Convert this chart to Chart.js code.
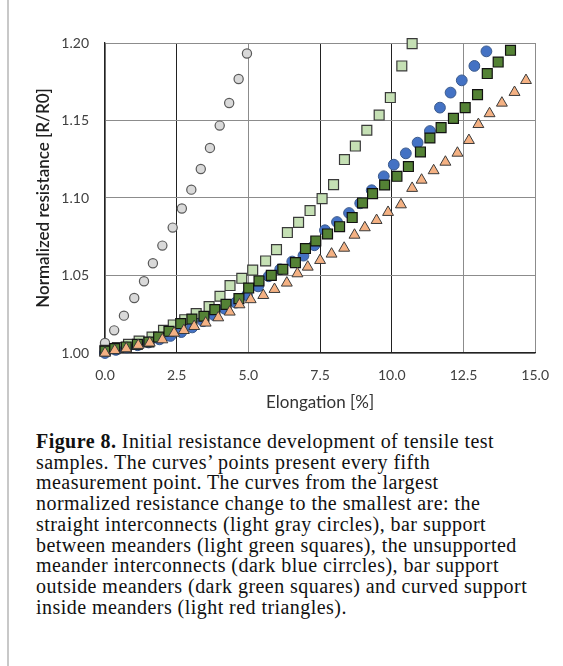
<!DOCTYPE html>
<html>
<head>
<meta charset="utf-8">
<script src="https://cdn.jsdelivr.net/npm/chart.js@4.4.0/dist/chart.umd.min.js"></script>
<style>
  html, body { margin: 0; padding: 0; background: #fff; }
  #page { position: relative; width: 563px; height: 666px; overflow: hidden; }
  #edge { position: absolute; left: 7px; top: 0; width: 2px; height: 666px; background: #c8c8c8; }
  #chart { position: absolute; left: 0; top: 0; }
  #caption {
    position: absolute; left: 36px; top: 431px;
    font-family: "Liberation Serif", "DejaVu Serif", serif;
    font-size: 20px; letter-spacing: 0.45px; line-height: 20.7px; color: #111; white-space: nowrap;
  }
</style>
</head>
<body>
<div id="page">
  <div id="edge"></div>
  <canvas id="chart" width="563" height="420"></canvas>
  <div id="caption">
    <b>Figure 8.</b> Initial resistance development of tensile test<br>
    samples. The curves’ points present every fifth<br>
    measurement point. The curves from the largest<br>
    normalized resistance change to the smallest are: the<br>
    straight interconnects (light gray circles), bar support<br>
    between meanders (light green squares), the unsupported<br>
    meander interconnects (dark blue cirrcles), bar support<br>
    outside meanders (dark green squares) and curved support<br>
    inside meanders (light red triangles).
  </div>
</div>
<script>
  // elongation [%] and normalized resistance
  const grayX = [0, 0.32, 0.66, 1.02, 1.36, 1.67, 2.0, 2.36, 2.68, 3.01, 3.34, 3.66, 4.0, 4.33, 4.66, 4.95];
  const grayY = [1.0065, 1.0146, 1.0241, 1.0355, 1.0463, 1.0579, 1.0693, 1.0809, 1.0932, 1.1054, 1.1187, 1.1323, 1.1467, 1.1613, 1.1768, 1.1932];

  const lightGreenX = [0, 0.43, 0.82, 1.19, 1.64, 2.04, 2.38, 2.78, 3.18, 3.63, 4.01, 4.36, 4.77, 5.15, 5.60, 5.98, 6.36, 6.75, 7.15, 7.57, 7.97, 8.35, 8.73, 9.13, 9.56, 9.95, 10.35, 10.71];
  const lightGreenY = [1.0017, 1.0035, 1.0056, 1.0077, 1.0103, 1.0146, 1.0181, 1.0215, 1.0254, 1.0299, 1.0366, 1.0435, 1.0482, 1.0535, 1.0594, 1.0667, 1.0777, 1.0843, 1.0919, 1.0996, 1.1086, 1.1248, 1.1335, 1.1437, 1.1535, 1.1648, 1.1852, 1.1996];

  const blueX = [0, 0.38, 0.76, 1.14, 1.52, 1.9, 2.28, 2.66, 3.04, 3.42, 3.8, 4.18, 4.56, 4.95, 5.34, 5.71, 6.11, 6.53, 6.92, 7.30, 7.67, 8.09, 8.51, 8.90, 9.30, 9.72, 10.07, 10.49, 10.90, 11.33, 11.68, 12.05, 12.44, 12.88, 13.30];
  const blueY = [1.0, 1.002, 1.0035, 1.005, 1.0068, 1.0088, 1.011, 1.0135, 1.0165, 1.0205, 1.0245, 1.0285, 1.0325, 1.0373, 1.0430, 1.0495, 1.0540, 1.0590, 1.0628, 1.0695, 1.0792, 1.0845, 1.0903, 1.0966, 1.105, 1.1140, 1.1215, 1.1288, 1.1357, 1.1432, 1.1583, 1.1680, 1.1759, 1.1852, 1.1946];

  const darkGreenX = [0, 0.34, 0.74, 1.13, 1.53, 1.87, 2.23, 2.64, 3.03, 3.45, 3.83, 4.22, 4.67, 5.01, 5.37, 5.80, 6.20, 6.64, 6.99, 7.35, 7.76, 8.18, 8.62, 8.98, 9.33, 9.75, 10.18, 10.58, 11.00, 11.33, 11.72, 12.15, 12.56, 12.99, 13.33, 13.71, 14.14];
  const darkGreenY = [1.0013, 1.0028, 1.0039, 1.0056, 1.0071, 1.0103, 1.0140, 1.0190, 1.0219, 1.0237, 1.0280, 1.0314, 1.0351, 1.0419, 1.0465, 1.0501, 1.0540, 1.0583, 1.0674, 1.0723, 1.0768, 1.0815, 1.0874, 1.0968, 1.1028, 1.1084, 1.1140, 1.1203, 1.1297, 1.1387, 1.1454, 1.1514, 1.1583, 1.1667, 1.1803, 1.1877, 1.1953];

  const triangleX = [0, 0.34, 0.74, 1.16, 1.56, 2.0, 2.41, 2.75, 3.11, 3.51, 3.95, 4.35, 4.69, 5.08, 5.52, 5.91, 6.34, 6.71, 7.07, 7.50, 7.90, 8.34, 8.70, 9.06, 9.47, 9.87, 10.32, 10.71, 11.04, 11.46, 11.87, 12.29, 12.69, 13.02, 13.41, 13.84, 14.28, 14.68];
  const triangleY = [1.0, 1.0017, 1.0028, 1.0050, 1.0065, 1.0086, 1.0129, 1.0146, 1.0172, 1.0194, 1.0228, 1.0265, 1.0312, 1.0345, 1.0372, 1.0411, 1.0452, 1.0512, 1.0555, 1.0598, 1.0639, 1.0677, 1.0761, 1.0809, 1.0856, 1.0908, 1.0957, 1.1063, 1.1116, 1.1177, 1.1232, 1.1290, 1.1372, 1.1475, 1.1545, 1.1613, 1.1682, 1.1759];

  const xTicks = [0, 2.5, 5, 7.5, 10, 12.5, 15];
  const yTicks = [1.00, 1.05, 1.10, 1.15, 1.20];
  const darkXLines = [2.5, 7.5, 10];

  function pts(xs, ys) {
    return xs.map((x, i) => ({ x: x, y: ys[i] }));
  }

  const ctx = document.getElementById('chart').getContext('2d');
  new Chart(ctx, {
    type: 'scatter',
    data: {
      datasets: [
        { label: 'straight', data: pts(grayX, grayY), order: 5,
          pointStyle: 'circle', pointRadius: 4.6, backgroundColor: '#d9d9d9', borderColor: '#595959', borderWidth: 1.2 },
        { label: 'bar between', data: pts(lightGreenX, lightGreenY), order: 4,
          pointStyle: 'rect', pointRadius: 7, backgroundColor: '#c5e0b4', borderColor: '#3a3a3a', borderWidth: 1.2 },
        { label: 'unsupported', data: pts(blueX, blueY), order: 3,
          pointStyle: 'circle', pointRadius: 5.4, backgroundColor: '#4472c4', borderColor: '#3b5a8c', borderWidth: 1 },
        { label: 'bar outside', data: pts(darkGreenX, darkGreenY), order: 2,
          pointStyle: 'rect', pointRadius: 7, backgroundColor: '#548235', borderColor: '#111', borderWidth: 1.2 },
        { label: 'curved inside', data: pts(triangleX, triangleY), order: 1,
          pointStyle: 'triangle', pointRadius: 6.3, backgroundColor: '#f4b183', borderColor: '#3a3a3a', borderWidth: 1 }
      ]
    },
    options: {
      responsive: false,
      animation: false,
      clip: false,
      layout: { padding: { top: 43, right: 16, bottom: 0, left: 0 } },
      plugins: { legend: { display: false }, tooltip: { enabled: false } },
      scales: {
        x: {
          type: 'linear', min: 0, max: 15,
          afterFit: s => { s.height = 67; },
          afterBuildTicks: s => { s.ticks = xTicks.map(v => ({ value: v })); },
          ticks: { callback: v => v.toFixed(1), color: '#404040', padding: 14,
                   font: { family: 'Lato', size: 14 } },
          grid: { drawTicks: false, lineWidth: 1,
                  color: c => darkXLines.includes(c.tick && c.tick.value) ? '#222' : '#8c8c8c' },
          border: { color: '#222', width: 1.3 },
          title: { display: true, text: 'Elongation [%]', color: '#333',
                   font: { family: 'Lato', size: 17 }, padding: { top: 0, bottom: 7 } }
        },
        y: {
          min: 1, max: 1.2,
          afterFit: s => { s.width = 105; },
          afterBuildTicks: s => { s.ticks = yTicks.map(v => ({ value: v })); },
          ticks: { callback: v => v.toFixed(2), color: '#404040', padding: 16,
                   font: { family: 'Lato', size: 14 } },
          grid: { drawTicks: false, color: '#8c8c8c', lineWidth: 1 },
          border: { color: '#222', width: 1.3 },
          title: { display: true, text: 'Normalized resistance [R/R0]', color: '#1f1f1f',
                   font: { family: 'Lato', size: 17, weight: '600' }, padding: { top: 33, bottom: 0 } }
        }
      }
    }
  });
</script>
</body>
</html>
